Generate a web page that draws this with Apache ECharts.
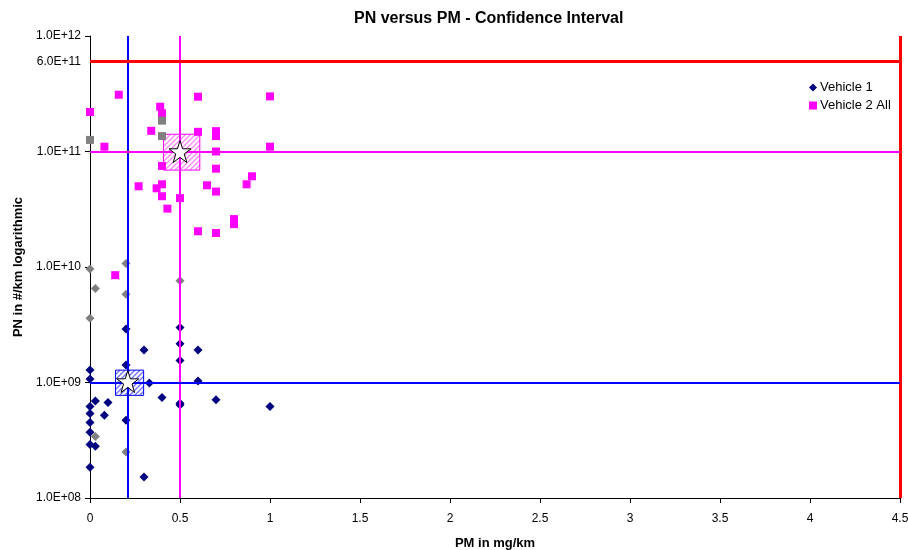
<!DOCTYPE html>
<html><head><meta charset="utf-8">
<script src="https://cdn.jsdelivr.net/npm/echarts@6/dist/echarts.min.js"></script>
<style>html,body{margin:0;padding:0;background:#fff}#c{width:908px;height:550px}</style>
</head><body><div id="c"></div>
<script>
// Vehicle 1 (navy diamonds): [PM mg/km, PN #/km]
const vehicle1 = [
  [0.2,2.9e9],[0.5,3.0e9],[0.5,2.17e9],[0.3,1.91e9],[0.6,1.91e9],[0.5,1.55e9],
  [0.2,1.42e9],[0,1.28e9],[0,1.07e9],[0.33,9.9e8],[0.6,1.03e9],[0.4,7.4e8],
  [0.7,7.1e8],[0.5,6.6e8],[0.5,6.4e8],[1.0,6.2e8],[0.03,6.9e8],[0.1,6.7e8],
  [0,6.2e8],[0,5.4e8],[0.08,5.2e8],[0.2,4.7e8],[0,4.5e8],[0,3.7e8],
  [0,2.9e8],[0.03,2.8e8],[0,1.85e8],[0.3,1.52e8]
];
// Vehicle 2 All (magenta squares)
const vehicle2 = [
  [0.16,3.1e11],[0,2.2e11],[0.6,2.98e11],[1.0,3.0e11],[0.39,2.44e11],[0.4,2.14e11],
  [0.34,1.51e11],[0.6,1.48e11],[0.7,1.5e11],[0.7,1.36e11],[0.08,1.1e11],[1.0,1.1e11],
  [0.7,1.0e11],[0.4,7.5e10],[0.7,7.1e10],[0.9,6.1e10],[0.87,5.2e10],[0.27,5.0e10],
  [0.37,4.8e10],[0.4,5.2e10],[0.65,5.1e10],[0.7,4.5e10],[0.4,4.1e10],[0.5,3.95e10],
  [0.43,3.2e10],[0.8,2.6e10],[0.8,2.35e10],[0.6,2.04e10],[0.7,1.97e10],[0.14,8.5e9]
];
// Grey markers (not in legend)
const greyDiamonds = [
  [0,9.6e9],[0.2,1.07e10],[0.03,6.5e9],[0.2,5.8e9],[0.5,7.6e9],[0,3.6e9],
  [0.03,3.4e8],[0.2,2.5e8]
];
const greySquares = [[0.4,1.85e11],[0,1.26e11],[0.4,1.36e11]];
// Means (stars) and confidence boxes
const mean1 = [0.21,1.02e9];
const mean2 = [0.5,1.0e11];
const box1 = [[0.142,1.28e9],[0.298,7.74e8]];
const box2 = [[0.408,1.41e11],[0.61,6.9e10]];
// Reference lines
const blueX = 0.21, magentaX = 0.5, redX = 4.5;
const blueY = 1e9, magentaY = 1e11, redY = 6e11;
const yTicks = ['1.0E+08','1.0E+09','1.0E+10','1.0E+11','1.0E+12'];
const redYLabel = '6.0E+11';

function hatch(color){
  const c=document.createElement('canvas'); c.width=5; c.height=5;
  const g=c.getContext('2d'); g.fillStyle='#fff'; g.fillRect(0,0,5,5);
  g.strokeStyle=color; g.lineWidth=1.3;
  g.beginPath(); g.moveTo(0,5); g.lineTo(5,0); g.moveTo(-2.5,2.5); g.lineTo(2.5,-2.5); g.moveTo(2.5,7.5); g.lineTo(7.5,2.5); g.stroke();
  return {image:c, repeat:'repeat'};
}
const star='path://M50,2 L61,36 L97,36 L68,57 L79,92 L50,71 L21,92 L32,57 L3,36 L39,36 Z';
const font='Arial, "Liberation Sans", sans-serif';
const chart=echarts.init(document.getElementById('c'));
chart.setOption({
  animation:false,
  textStyle:{fontFamily:font},
  title:{text:'PN versus PM - Confidence Interval',left:349,top:6,
    textStyle:{fontSize:16,fontWeight:'bold',color:'#000',fontFamily:font}},
  legend:{orient:'vertical',left:804,top:76,itemWidth:8,itemHeight:8,itemGap:5,
    textStyle:{fontSize:13,color:'#000',fontFamily:font,padding:[0,0,0,-2]},
    data:[{name:'Vehicle 1',icon:'diamond'},{name:'Vehicle 2 All',icon:'rect'}]},
  grid:{left:90,right:8,top:36,bottom:52,containLabel:false,outerBoundsMode:'none'},
  xAxis:{type:'value',min:0,max:4.5,interval:0.5,
    name:'PM in mg/km',nameLocation:'middle',nameGap:39,
    nameTextStyle:{fontSize:13,fontWeight:'bold',color:'#000'},
    axisLine:{lineStyle:{color:'#000',width:1}},axisTick:{length:5,lineStyle:{color:'#000'}},
    axisLabel:{fontSize:12,color:'#000',margin:15},splitLine:{show:false}},
  yAxis:{type:'log',min:1e8,max:1e12,logBase:10,
    name:'PN in #/km logarithmic',nameLocation:'middle',nameGap:65,
    nameTextStyle:{fontSize:13,fontWeight:'bold',color:'#000'},
    axisLine:{show:true,lineStyle:{color:'#000',width:1}},axisTick:{length:5,lineStyle:{color:'#000'}},
    minorTick:{show:false},
    axisLabel:{fontSize:12,color:'#000',margin:9,formatter:(v)=>yTicks[Math.round(Math.log10(v))-8]},
    splitLine:{show:false}},
  series:[
    {name:'lines',type:'scatter',data:[],z:1,silent:true,
      markLine:{symbol:'none',silent:true,animation:false,
        label:{show:false},
        data:[
          {xAxis:blueX,lineStyle:{color:'#0000FF',width:2,type:'solid',opacity:1}},
          {xAxis:magentaX,lineStyle:{color:'#FF00FF',width:2,type:'solid',opacity:1}},
          {xAxis:redX,lineStyle:{color:'#FF0000',width:3,type:'solid',opacity:1}},
          {yAxis:blueY,lineStyle:{color:'#0000FF',width:2,type:'solid',opacity:1}},
          {yAxis:magentaY,lineStyle:{color:'#FF00FF',width:2,type:'solid',opacity:1}},
          {yAxis:redY,lineStyle:{color:'#FF0000',width:3,type:'solid',opacity:1},
            label:{show:true,position:'start',formatter:redYLabel,fontSize:12,color:'#000',distance:9}}
        ]}},
    {name:'Vehicle 1',type:'scatter',data:vehicle1,symbol:'diamond',symbolSize:9,z:3,
      itemStyle:{color:'#000080',opacity:1}},
    {name:'Vehicle 2 All',type:'scatter',data:vehicle2,symbol:'rect',symbolSize:8,z:3,
      itemStyle:{color:'#FF00FF',opacity:1}},
    {name:'grey1',type:'scatter',data:greyDiamonds,symbol:'diamond',symbolSize:9,z:3,
      itemStyle:{color:'#808080',opacity:1}},
    {name:'grey2',type:'scatter',data:greySquares,symbol:'rect',symbolSize:8,z:3,
      itemStyle:{color:'#808080',opacity:1}},
    {name:'boxes',type:'scatter',data:[],z:4,
      markArea:{silent:true,data:[
        [{coord:box1[0],itemStyle:{color:hatch('#7070FF'),borderColor:'#0000FF',borderWidth:1,opacity:1}},{coord:box1[1]}],
        [{coord:box2[0],itemStyle:{color:hatch('#FF88FF'),borderColor:'#FF00FF',borderWidth:1,opacity:1}},{coord:box2[1]}]
      ]}},
    {name:'means',type:'scatter',data:[mean1,mean2],symbol:star,symbolSize:22,z:10,zlevel:1,
      itemStyle:{color:'#fff',borderColor:'#000',borderWidth:1,opacity:1}}
  ]
});
</script></body></html>
